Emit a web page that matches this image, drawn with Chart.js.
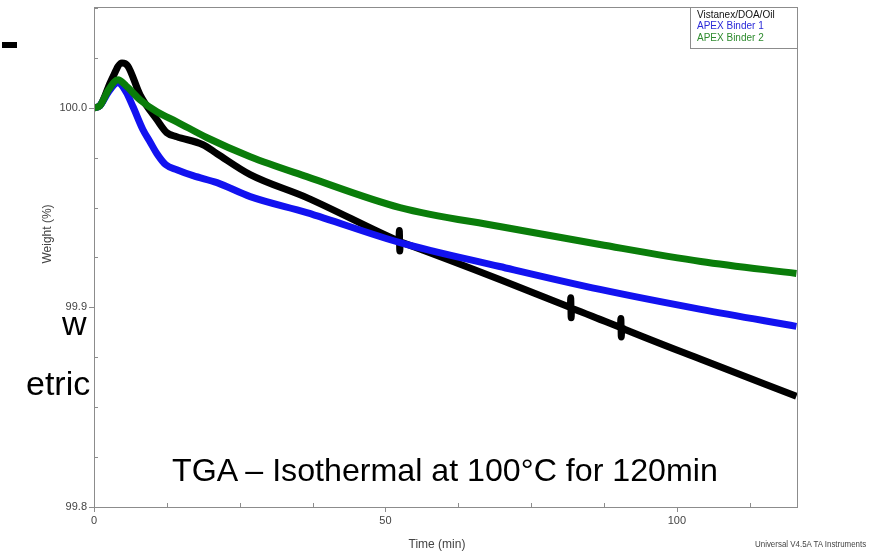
<!DOCTYPE html>
<html>
<head>
<meta charset="utf-8">
<script src="https://cdn.jsdelivr.net/npm/chart.js"></script>
<style>
  html, body { margin: 0; padding: 0; background: #fff; }
  #wrap { position: relative; width: 873px; height: 555px; overflow: hidden;
          font-family: "Liberation Sans", Arial, sans-serif; }
  #tga { position: absolute; left: 0; top: 0; }
  .txt { position: absolute; white-space: nowrap; color: #000; line-height: 1; }
</style>
</head>
<body>
<div id="wrap">
  <canvas id="tga" width="873" height="555"></canvas>
  <div class="txt" style="left:2px; top:42px; width:15px; height:6px; background:#000;"></div>
  <div class="txt" style="left:62px; top:306px; font-size:34px;">w</div>
  <div class="txt" style="left:26px; top:366px; font-size:34px;">etric</div>
  <div class="txt" id="note" style="left:172px; top:454px; font-size:32px; transform-origin:left top;">TGA – Isothermal at 100°C for 120min</div>
  <div class="txt" id="vers" style="left:755px; top:540px; font-size:9px; color:#444; transform-origin:left top;">Universal V4.5A TA Instruments</div>
</div>
<script>
// time in minutes, weight in %
const blackTime   = [0, 1, 3, 4.8, 5.8, 7.9, 10.8, 12.5, 14.2, 18.7, 21.1, 26.8, 36.5,
                     51.9, 52.32, 52.38, 52.46, 52.52, 53.0, 69.6,
                     81.3, 81.72, 81.78, 81.86, 81.92, 82.4, 86.8,
                     89.9, 90.32, 90.38, 90.46, 90.52, 91.0, 104.1, 120.5];
const blackWeight = [100.000, 100.001, 100.014, 100.0225, 100.021, 100.0065, 99.994, 99.9875, 99.9855, 99.9815, 99.977, 99.9665, 99.955,
                     99.9337, 99.9332, 99.9385, 99.9282, 99.9329, 99.9324, 99.914,
                     99.9004, 99.8999, 99.9048, 99.8948, 99.8996, 99.8991, 99.894,
                     99.8904, 99.8899, 99.8944, 99.8852, 99.8897, 99.8891, 99.874, 99.8555];

const blueTime    = [0, 1, 2.5, 4.1, 5.5, 6.7, 8.4, 9.6, 10.8, 12.3, 14.2, 17, 21.1, 26.8, 36.5, 52.5, 69.6, 86.8, 104.1, 120.5];
const blueWeight  = [100.000, 100.001, 100.008, 100.0125, 100.008, 100.0005, 99.989, 99.983, 99.977, 99.9715, 99.969, 99.966, 99.9625, 99.9555, 99.9475, 99.9325, 99.9205, 99.909, 99.899, 99.8905];

const greenTime   = [0, 1, 2.5, 4.1, 5.5, 7.9, 10.8, 14.2, 19.4, 26.8, 36.5, 52.5, 69.6, 86.8, 104.1, 120.5];
const greenWeight = [100.000, 100.001, 100.009, 100.014, 100.011, 100.004, 99.998, 99.993, 99.985, 99.9755, 99.9655, 99.95, 99.9405, 99.9315, 99.923, 99.917];

const seriesNames = ['Vistanex/DOA/Oil', 'APEX Binder 1', 'APEX Binder 2'];
const xLabels = [0, 50, 100];
const yLabels = [99.8, 99.9, 100.0];

function pts(t, w) { return t.map((v, i) => ({ x: v, y: w[i] })); }
function isMajor(v, list) { return list.some(l => Math.abs(l - v) < 1e-6); }

// frame, inside minor ticks, outside major ticks, axis titles, legend box
const framePlugin = {
  id: 'frame',
  afterDraw(chart) {
    const { ctx, chartArea: a, scales: { x, y } } = chart;
    ctx.save();
    ctx.strokeStyle = '#8c8c8c';
    ctx.lineWidth = 1;
    ctx.strokeRect(a.left + 0.5, a.top + 0.5, a.right - a.left, a.bottom - a.top);
    ctx.beginPath();
    x.ticks.forEach(t => {
      const px = Math.round(x.getPixelForValue(t.value)) + 0.5;
      if (isMajor(t.value, xLabels)) { ctx.moveTo(px, a.bottom); ctx.lineTo(px, a.bottom + 5); }
      else { ctx.moveTo(px, a.bottom); ctx.lineTo(px, a.bottom - 4); }
    });
    y.ticks.forEach(t => {
      const py = Math.round(y.getPixelForValue(t.value)) + 0.5;
      if (isMajor(t.value, yLabels)) { ctx.moveTo(a.left, py); ctx.lineTo(a.left - 5, py); }
      else { ctx.moveTo(a.left, py); ctx.lineTo(a.left + 4, py); }
    });
    ctx.stroke();

    ctx.fillStyle = '#444';
    ctx.font = '12px "Liberation Sans", Arial, sans-serif';
    ctx.textAlign = 'center';
    ctx.textBaseline = 'middle';
    ctx.fillText('Time (min)', 437, 545);
    ctx.save();
    ctx.translate(48, 234);
    ctx.rotate(-Math.PI / 2);
    ctx.fillText('Weight (%)', 0, 0);
    ctx.restore();

    // legend
    const lx = 690, ly = a.top, lw = a.right - 690, lh = 41;
    ctx.fillStyle = '#fff';
    ctx.fillRect(lx, ly, lw, lh);
    ctx.strokeStyle = '#8c8c8c';
    ctx.strokeRect(lx + 0.5, ly + 0.5, lw, lh);
    ctx.font = '10px "Liberation Sans", Arial, sans-serif';
    ctx.textAlign = 'left';
    chart.data.datasets.forEach((d, i) => {
      ctx.fillStyle = d.legendColor;
      ctx.fillText(d.label, lx + 7, ly + 8 + i * 11.5);
    });
    ctx.restore();
  }
};

const chart = new Chart(document.getElementById('tga'), {
  type: 'line',
  data: {
    datasets: [
      { label: seriesNames[0], data: pts(blackTime, blackWeight), borderColor: '#000000', legendColor: '#111111', order: 2 },
      { label: seriesNames[1], data: pts(blueTime, blueWeight), borderColor: '#1212f0', legendColor: '#2a2ad8', order: 1 },
      { label: seriesNames[2], data: pts(greenTime, greenWeight), borderColor: '#0a7d0a', legendColor: '#2e8b2e', order: 0 }
    ].map(d => Object.assign(d, { borderWidth: 7, pointRadius: 0, cubicInterpolationMode: 'monotone', fill: false }))
  },
  options: {
    responsive: false,
    animation: false,
    devicePixelRatio: 1,
    layout: { padding: { top: 7, right: 76, left: 0, bottom: 0 } },
    plugins: { legend: { display: false }, tooltip: { enabled: false } },
    scales: {
      x: {
        type: 'linear', min: 0, max: 120.6,
        grid: { display: false, drawTicks: false },
        border: { display: false },
        ticks: {
          stepSize: 12.5, includeBounds: false, maxRotation: 0, autoSkip: false, padding: 7,
          color: '#444', font: { family: '"Liberation Sans", Arial, sans-serif', size: 11 },
          callback: v => isMajor(v, xLabels) ? String(Math.round(v)) : ''
        },
        afterFit: s => { s.height = 48; s.paddingLeft = 0; s.paddingRight = 0; }
      },
      y: {
        type: 'linear', min: 99.8, max: 100.0505,
        grid: { display: false, drawTicks: false },
        border: { display: false },
        ticks: {
          stepSize: 0.025, includeBounds: false, autoSkip: false, padding: 7,
          color: '#444', font: { family: '"Liberation Sans", Arial, sans-serif', size: 11 },
          callback: v => isMajor(v, yLabels) ? v.toFixed(1) : ''
        },
        afterFit: s => { s.width = 94; s.paddingTop = 0; s.paddingBottom = 0; }
      }
    }
  },
  plugins: [framePlugin]
});

// squeeze the overlay texts to the widths seen in the picture
function fit(id, w) {
  const el = document.getElementById(id);
  el.style.transform = 'scaleX(' + (w / el.offsetWidth) + ')';
}
fit('note', 546);
fit('vers', 111);
</script>
</body>
</html>
